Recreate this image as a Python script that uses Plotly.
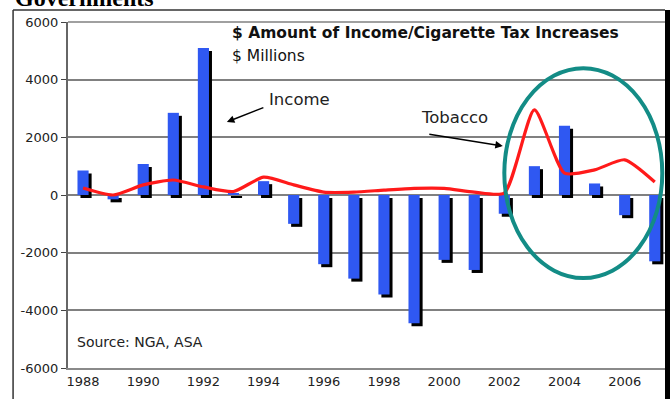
import plotly.graph_objects as go

years = list(range(1988, 2008))
income = [850, -150, 1075, 2850, 5100, 50, 480, -1000, -2400, -2900, -3450, -4450,
          -2250, -2600, -650, 1000, 2400, 400, -700, -2300]
tobacco = [240, 0, 350, 520, 280, 120, 620, 350, 100, 100, 170, 230,
           230, 100, 70, 2950, 760, 870, 1220, 450]
y_ticks = [-6000, -4000, -2000, 0, 2000, 4000, 6000]
x_ticks = list(range(1988, 2008, 2))

W = 0.37
SHX = 0.1      # shadow offset in years (~3px)
SHY = 104      # shadow offset in value units (~3px)

fig = go.Figure()
fig.add_trace(go.Bar(x=years, y=income, base=[-SHY] * len(years), width=W,
                     offset=-W / 2 + SHX, marker=dict(color="#000000", line=dict(width=0)),
                     showlegend=False, hoverinfo="skip"))
fig.add_trace(go.Bar(x=years, y=income, width=W, offset=-W / 2,
                     marker=dict(color="#2F58F2", line=dict(width=0)), showlegend=False))
fig.add_trace(go.Scatter(x=years, y=tobacco, mode="lines",
                         line=dict(color="#FF1A1A", width=3.2, shape="spline", smoothing=0.6),
                         showlegend=False))

fig.update_layout(
    width=670, height=399,
    margin=dict(l=68, r=5, t=22, b=31),
    paper_bgcolor="white", plot_bgcolor="white",
    barmode="overlay",
    font=dict(family="DejaVu Sans", color="#222222"),
)
fig.update_xaxes(range=[1987.5, 2007.34], tickvals=x_ticks, ticktext=[str(v) for v in x_ticks],
                 showgrid=False, zeroline=False, showline=True, linecolor="#8a8a8a", linewidth=2,
                 ticks="", tickfont=dict(family="DejaVu Sans", size=13, color="#222222"))
fig.update_yaxes(range=[-6000, 6000], tickvals=y_ticks, ticktext=[str(v) for v in y_ticks],
                 showgrid=True, gridcolor="#808080", gridwidth=1.5,
                 zeroline=True, zerolinecolor="#808080", zerolinewidth=1.5,
                 showline=True, linecolor="#666666", linewidth=2,
                 ticks="outside", ticklen=5, tickcolor="#444444",
                 tickfont=dict(family="DejaVu Sans", size=13, color="#222222"))

shapes = [
    # top gridline
    dict(type="line", xref="paper", yref="paper", x0=0, x1=1, y0=1, y1=1,
         line=dict(color="#808080", width=1.5)),
    # outer frame
    dict(type="line", xref="paper", yref="paper", x0=-0.092, x1=-0.092, y0=-0.2, y1=1.0347,
         line=dict(color="#333333", width=1.5)),
    dict(type="line", xref="paper", yref="paper", x0=-0.092, x1=1.0, y0=1.0347, y1=1.0347,
         line=dict(color="#333333", width=1.5)),
    dict(type="rect", xref="paper", yref="paper", x0=1.0, x1=1.02, y0=-0.2, y1=1.0347,
         fillcolor="#000000", line=dict(width=0)),
    # ellipse
    dict(type="circle", xref="x", yref="y", x0=2002.0, x1=2007.25, y0=-2880, y1=4400,
         line=dict(color="#138C86", width=4)),
]
fig.update_layout(shapes=shapes)

ann = [
    dict(text="<b>Governments</b>", xref="paper", yref="paper", x=-0.092, y=1.026,
         xanchor="left", yanchor="bottom", showarrow=False,
         font=dict(family="Liberation Serif", size=24, color="#000000")),
    dict(text="<b>$ Amount of Income/Cigarette Tax Increases</b>", xref="paper", yref="paper",
         x=0.2714, y=0.968, xanchor="left", yanchor="middle", showarrow=False,
         font=dict(family="DejaVu Sans", size=15.5, color="#111111")),
    dict(text="$ Millions", xref="paper", yref="paper", x=0.2714, y=0.9017,
         xanchor="left", yanchor="middle", showarrow=False,
         font=dict(family="DejaVu Sans", size=15.5, color="#111111")),
    dict(text="Income", xref="paper", yref="paper", x=0.387, y=0.7746,
         xanchor="center", yanchor="middle", showarrow=False,
         font=dict(family="DejaVu Sans", size=16.5, color="#222222")),
    dict(text="Tobacco", xref="paper", yref="paper", x=0.648, y=0.7254,
         xanchor="center", yanchor="middle", showarrow=False,
         font=dict(family="DejaVu Sans", size=16.5, color="#222222")),
    dict(text="Source: NGA, ASA", xref="paper", yref="paper", x=0.0117, y=0.0751,
         xanchor="left", yanchor="middle", showarrow=False,
         font=dict(family="DejaVu Sans", size=14, color="#222222")),
    dict(text="", x=1992.78, y=2532, xref="x", yref="y", showarrow=True,
         ax=38, ay=-15, arrowhead=2, arrowsize=1, arrowwidth=1.5, arrowcolor="#000000"),
    dict(text="", x=2001.95, y=1700, xref="x", yref="y", showarrow=True,
         ax=-75, ay=-12, arrowhead=2, arrowsize=1, arrowwidth=1.5, arrowcolor="#000000"),
]
fig.update_layout(annotations=ann)

fig.write_html("out.html")
